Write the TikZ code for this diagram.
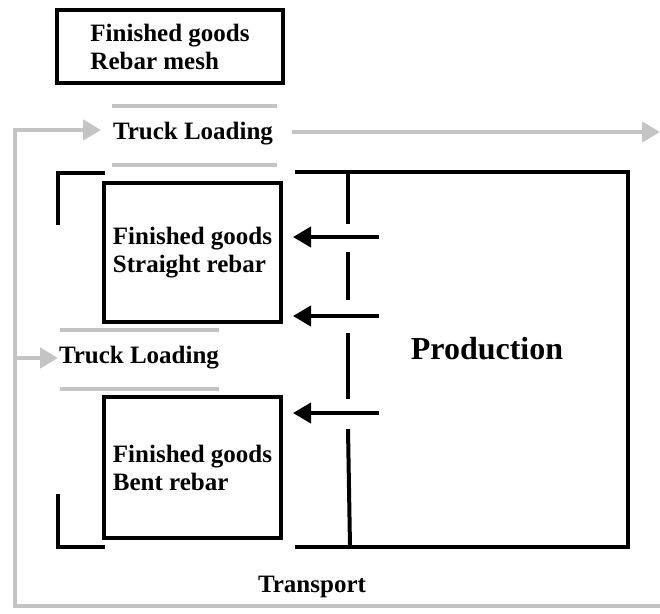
\documentclass[tikz,border=0pt]{standalone}
\usepackage{fontspec}
\setmainfont{Liberation Serif}
\usetikzlibrary{arrows.meta}

\definecolor{flowgray}{RGB}{196,196,196}

\tikzset{
  txt/.style={font=\fontsize{25}{28}\selectfont\bfseries, align=left, inner sep=0pt},
  store/.style={draw=black, line width=4pt, txt, minimum width=#1},
  wall/.style={draw=black, line width=4pt, line join=miter},
  feed/.style={draw=black, line width=4pt, -{Triangle[length=18pt,width=20pt]}},
  lane/.style={draw=flowgray, line width=4.5pt},
  flow/.style={draw=flowgray, line width=4.5pt, line join=miter, -{Triangle[length=18pt,width=20pt]}}
}

\begin{document}
\begin{tikzpicture}[x=1pt, y=-1pt]
  \useasboundingbox (0,0) rectangle (660,613);

  % storage areas for finished goods
  \node[store=226pt, minimum height=73pt] (mesh) at (170,46.5) {Finished goods\\Rebar mesh};
  \node[store=177pt, minimum height=139pt] (straight) at (192.5,252.5) {Finished goods\\Straight rebar};
  \node[store=177pt, minimum height=141pt] (bent) at (192.5,467.5) {Finished goods\\Bent rebar};

  % loading bays
  \node[txt] (load1) at (193,134) {Truck Loading};
  \node[txt] (load2) at (139,358) {Truck Loading};
  \draw[lane] (112,106) -- (277,106);
  \draw[lane] (112,165) -- (277,165);
  \draw[lane] (60,330) -- (219,330);
  \draw[lane] (60,389) -- (219,389);

  % production hall
  \node[font=\fontsize{32}{36}\selectfont\bfseries, inner sep=0pt] (prod) at (487,349) {Production};
  \node[txt] (transport) at (312,587) {Transport};

  % building outline
  \draw[wall] (105,173) -- (58,173) -- (58,225);
  \draw[wall] (58,494) -- (58,547) -- (105,547);
  \draw[wall] (295,547) -- (628,547) -- (628,172) -- (295,172);

  % partition with openings
  \draw[wall] (348,172) -- (348,224);
  \draw[wall] (348,252) -- (348,300);
  \draw[wall] (348,333) -- (348,399);
  \draw[wall] (348,429) -- (350,547);

  % output of production into storage
  \coordinate (p1) at (379,237);  \coordinate (s1) at (293,237);
  \coordinate (p2) at (379,316);  \coordinate (s2) at (293,316);
  \coordinate (p3) at (379,413);  \coordinate (s3) at (293,413);
  \draw[feed] (p1) -- (s1);
  \draw[feed] (p2) -- (s2);
  \draw[feed] (p3) -- (s3);

  % truck route
  \coordinate (exit) at (660,606);
  \coordinate (in1) at (101,130);
  \coordinate (in2) at (58,358);
  \coordinate (out1) at (292,132);
  \coordinate (out2) at (660,132);
  \draw[flow] (exit) -- (15,606) -- (15,130) -- (in1);
  \draw[flow] (15,358) -- (in2);
  \draw[flow] (out1) -- (out2);
\end{tikzpicture}
\end{document}
